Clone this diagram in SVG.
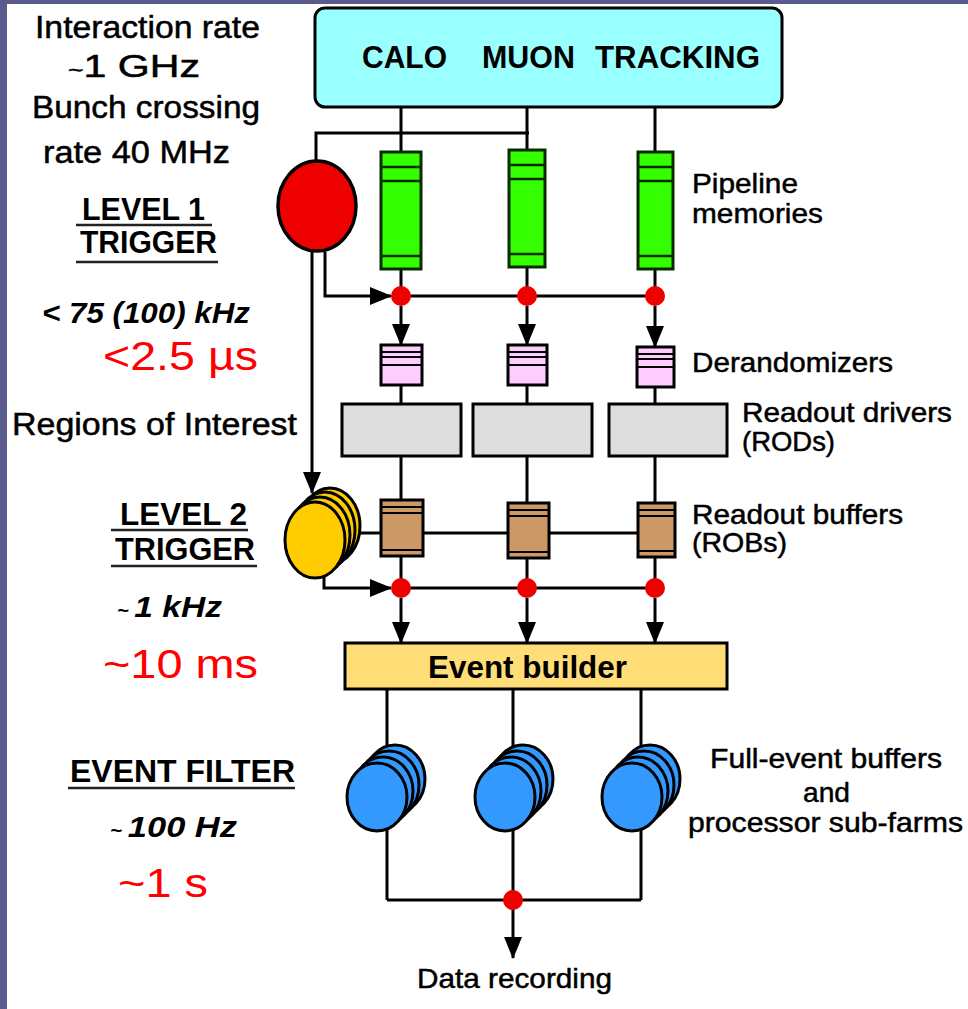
<svg xmlns="http://www.w3.org/2000/svg" width="968" height="1009" viewBox="0 0 968 1009">
<style>
.ln{fill:none;stroke:#000;stroke-width:3}
.ul{stroke:#222;stroke-width:2.5}
.lbl{font-family:"Liberation Sans",Arial,sans-serif;font-size:28px;fill:#000;stroke:#000;stroke-width:0.5}
.lft{font-family:"Liberation Sans",Arial,sans-serif;font-size:31px;fill:#000;stroke:#000;stroke-width:0.5}
.hd{font-family:"Liberation Sans",Arial,sans-serif;font-size:31px;font-weight:bold;fill:#000}
.it{font-family:"Liberation Sans",Arial,sans-serif;font-size:30px;font-weight:bold;font-style:italic;fill:#000}
.red{font-family:"Liberation Sans",Arial,sans-serif;font-size:40px;fill:#ff0000}
.pipe{fill:#33ff00;stroke:#0a2a00;stroke-width:3}
.pipeln{stroke:#0a2a00;stroke-width:2.5}
.der{fill:#ffccff;stroke:#000;stroke-width:3}
.derln{stroke:#000;stroke-width:2}
.rod{fill:#dddddd;stroke:#000;stroke-width:3}
.rob{fill:#cc9966;stroke:#000;stroke-width:3}
.robln{stroke:#000;stroke-width:2}
.dot{fill:#ee0000}
.blue{fill:#3399ff;stroke:#000;stroke-width:3}
.yel{fill:#ffcc00;stroke:#000;stroke-width:3}
</style>
<defs>
<marker id="ah" markerUnits="userSpaceOnUse" markerWidth="22" markerHeight="18" refX="21" refY="9" orient="auto">
<path d="M0,0 L22,9 L0,18 Z" fill="#000"/>
</marker>
</defs>
<rect width="968" height="1009" fill="#ffffff"/>
<rect x="0" y="0" width="968" height="4" fill="#5a5a8c"/>
<rect x="0" y="0" width="7" height="1009" fill="#5a5a8c"/>

<g id="connectors">
<path class="ln" d="M401,108 V152 M527,108 V150 M655,108 V152"/>
<path class="ln" d="M316,161 V133 H529"/>
<path class="ln" d="M401,269 V296 M527,267 V296 M655,269 V296"/>
<path class="ln" d="M401,296 H655"/>
<path class="ln" marker-end="url(#ah)" d="M325,252 V296 H391"/>
<path class="ln" marker-end="url(#ah)" d="M312,252 V493"/>
<path class="ln" marker-end="url(#ah)" d="M401,306 V345"/>
<path class="ln" marker-end="url(#ah)" d="M527,306 V345"/>
<path class="ln" marker-end="url(#ah)" d="M655,306 V347"/>
<path class="ln" d="M401,385 V404 M527,385 V404 M655,387 V404"/>
<path class="ln" d="M401,456 V500 M527,456 V503 M655,456 V503"/>
<path class="ln" d="M345,533 H656"/>
<path class="ln" d="M401,556 V588 M527,558 V588 M655,557 V588"/>
<path class="ln" d="M401,588 H655"/>
<path class="ln" marker-end="url(#ah)" d="M324,574 V588 H391"/>
<path class="ln" marker-end="url(#ah)" d="M401,598 V643"/>
<path class="ln" marker-end="url(#ah)" d="M527,598 V643"/>
<path class="ln" marker-end="url(#ah)" d="M655,598 V643"/>
<path class="ln" d="M387,689 V900 M513,689 V900 M641,689 V900"/>
<path class="ln" d="M387,900 H641"/>
<path class="ln" marker-end="url(#ah)" d="M513,908 V958"/>
</g>

<g id="detectors">
<rect x="315" y="8" width="467" height="99" rx="10" fill="#99ffff" stroke="#000" stroke-width="3"/>
<text class="hd" font-size="36" x="362" y="68" textLength="85" lengthAdjust="spacingAndGlyphs">CALO</text>
<text class="hd" font-size="36" x="482" y="68" textLength="93" lengthAdjust="spacingAndGlyphs">MUON</text>
<text class="hd" font-size="36" x="595" y="68" textLength="165" lengthAdjust="spacingAndGlyphs">TRACKING</text>
</g>

<g id="level1-trigger">
<ellipse cx="317" cy="206" rx="39" ry="45" fill="#ee0000" stroke="#000" stroke-width="3.5"/>
</g>

<g id="pipelines">
<rect class="pipe" x="381" y="152" width="40" height="117"/>
<path class="pipeln" d="M381,167 H421 M381,181 H421 M381,256 H421"/>
<rect class="pipe" x="509" y="150" width="36" height="117"/>
<path class="pipeln" d="M509,165 H545 M509,179 H545 M509,254 H545"/>
<rect class="pipe" x="638" y="152" width="35" height="117"/>
<path class="pipeln" d="M638,167 H673 M638,181 H673 M638,256 H673"/>
</g>

<g id="l1-dots">
<circle class="dot" cx="401" cy="296" r="10"/>
<circle class="dot" cx="527" cy="296" r="10"/>
<circle class="dot" cx="655" cy="296" r="10"/>
</g>

<g id="derandomizers">
<rect class="der" x="381" y="345" width="41" height="40"/>
<path class="derln" d="M381,352 H422 M381,357 H422 M381,365 H422"/>
<rect class="der" x="508" y="345" width="39" height="40"/>
<path class="derln" d="M508,352 H547 M508,357 H547 M508,365 H547"/>
<rect class="der" x="637" y="347" width="37" height="40"/>
<path class="derln" d="M637,354 H674 M637,359 H674 M637,367 H674"/>
</g>

<g id="rods">
<rect class="rod" x="342" y="404" width="119" height="52"/>
<rect class="rod" x="473" y="404" width="119" height="52"/>
<rect class="rod" x="609" y="404" width="118" height="52"/>
</g>

<g id="level2-trigger">
<ellipse class="yel" cx="330" cy="526" rx="30" ry="38"/>
<ellipse class="yel" cx="325" cy="530" rx="30" ry="38"/>
<ellipse class="yel" cx="320" cy="535" rx="30" ry="38"/>
<ellipse class="yel" cx="315" cy="540" rx="30" ry="38"/>
</g>

<g id="robs">
<rect class="rob" x="381" y="500" width="42" height="56"/>
<path class="robln" d="M381,507 H423 M381,513 H423 M381,550 H423"/>
<rect class="rob" x="508" y="503" width="41" height="55"/>
<path class="robln" d="M508,510 H549 M508,516 H549 M508,552 H549"/>
<rect class="rob" x="638" y="503" width="37" height="54"/>
<path class="robln" d="M638,510 H675 M638,516 H675 M638,551 H675"/>
</g>

<g id="l2-dots">
<circle class="dot" cx="401" cy="588" r="10"/>
<circle class="dot" cx="527" cy="588" r="10"/>
<circle class="dot" cx="655" cy="588" r="10"/>
</g>

<g id="event-builder">
<rect x="345" y="643" width="382" height="46" fill="#ffdd77" stroke="#000" stroke-width="3"/>
<text class="hd" font-size="32" x="428" y="678" textLength="199" lengthAdjust="spacingAndGlyphs">Event builder</text>
</g>

<g id="farm-1">
<ellipse class="blue" cx="395" cy="779" rx="30" ry="34"/>
<ellipse class="blue" cx="389" cy="785" rx="30" ry="34"/>
<ellipse class="blue" cx="383" cy="791" rx="30" ry="34"/>
<ellipse class="blue" cx="377" cy="797" rx="30" ry="34"/>
</g>
<g id="farm-2">
<ellipse class="blue" cx="523" cy="779" rx="30" ry="34"/>
<ellipse class="blue" cx="517" cy="785" rx="30" ry="34"/>
<ellipse class="blue" cx="511" cy="791" rx="30" ry="34"/>
<ellipse class="blue" cx="505" cy="797" rx="30" ry="34"/>
</g>
<g id="farm-3">
<ellipse class="blue" cx="650" cy="779" rx="30" ry="34"/>
<ellipse class="blue" cx="644" cy="785" rx="30" ry="34"/>
<ellipse class="blue" cx="638" cy="791" rx="30" ry="34"/>
<ellipse class="blue" cx="632" cy="797" rx="30" ry="34"/>
</g>

<g id="output-dot">
<circle class="dot" cx="513" cy="900" r="10"/>
</g>

<g id="left-labels">
<text class="lft" x="35" y="38" textLength="225" lengthAdjust="spacingAndGlyphs">Interaction rate</text>
<text class="lft" x="68" y="77" textLength="132" lengthAdjust="spacingAndGlyphs"><tspan font-size="20">~</tspan>1 GHz</text>
<text class="lft" x="32" y="118" textLength="228" lengthAdjust="spacingAndGlyphs">Bunch crossing</text>
<text class="lft" x="43" y="163" textLength="187" lengthAdjust="spacingAndGlyphs">rate 40 MHz</text>
<text class="hd" font-size="29" x="82" y="220" textLength="123" lengthAdjust="spacingAndGlyphs">LEVEL 1</text>
<line class="ul" x1="76" y1="225" x2="212" y2="225"/>
<text class="hd" x="80" y="253" textLength="137" lengthAdjust="spacingAndGlyphs">TRIGGER</text>
<line class="ul" x1="76" y1="262" x2="218" y2="262"/>
<text class="it" x="42" y="323" textLength="208" lengthAdjust="spacingAndGlyphs">&lt; 75 (100) kHz</text>
<text class="red" x="103" y="370" textLength="155" lengthAdjust="spacingAndGlyphs">&lt;2.5 µs</text>
<text class="lft" font-size="33" x="12" y="435" textLength="285" lengthAdjust="spacingAndGlyphs">Regions of Interest</text>
<text class="hd" font-size="30" x="120" y="525" textLength="127" lengthAdjust="spacingAndGlyphs">LEVEL 2</text>
<line class="ul" x1="111" y1="530" x2="248" y2="530"/>
<text class="hd" x="115" y="560" textLength="140" lengthAdjust="spacingAndGlyphs">TRIGGER</text>
<line class="ul" x1="111" y1="566" x2="257" y2="566"/>
<text class="it" x="117" y="617" textLength="105" lengthAdjust="spacingAndGlyphs"><tspan font-size="18">~ </tspan>1 kHz</text>
<text class="red" x="103" y="678" textLength="155" lengthAdjust="spacingAndGlyphs">~10 ms</text>
<text class="hd" font-size="33" x="70" y="782" textLength="225" lengthAdjust="spacingAndGlyphs">EVENT FILTER</text>
<line class="ul" x1="68" y1="788" x2="295" y2="788"/>
<text class="it" x="110" y="837" textLength="127" lengthAdjust="spacingAndGlyphs"><tspan font-size="18">~ </tspan>100 Hz</text>
<text class="red" font-size="42" x="118" y="897" textLength="90" lengthAdjust="spacingAndGlyphs">~1 s</text>
</g>

<g id="right-labels">
<text class="lbl" x="692" y="193" textLength="106" lengthAdjust="spacingAndGlyphs">Pipeline</text>
<text class="lbl" x="692" y="223" textLength="131" lengthAdjust="spacingAndGlyphs">memories</text>
<text class="lbl" x="692" y="372" textLength="201" lengthAdjust="spacingAndGlyphs">Derandomizers</text>
<text class="lbl" font-size="27" x="742" y="422" textLength="210" lengthAdjust="spacingAndGlyphs">Readout drivers</text>
<text class="lbl" font-size="26" x="742" y="451" textLength="93" lengthAdjust="spacingAndGlyphs">(RODs)</text>
<text class="lbl" x="692" y="524" textLength="211" lengthAdjust="spacingAndGlyphs">Readout buffers</text>
<text class="lbl" x="692" y="552" textLength="95" lengthAdjust="spacingAndGlyphs">(ROBs)</text>
<text class="lbl" x="710" y="768" textLength="232" lengthAdjust="spacingAndGlyphs">Full-event buffers</text>
<text class="lbl" x="803" y="802" textLength="47" lengthAdjust="spacingAndGlyphs">and</text>
<text class="lbl" x="688" y="832" textLength="275" lengthAdjust="spacingAndGlyphs">processor sub-farms</text>
<text class="lbl" x="417" y="988" textLength="195" lengthAdjust="spacingAndGlyphs">Data recording</text>
</g>
</svg>
